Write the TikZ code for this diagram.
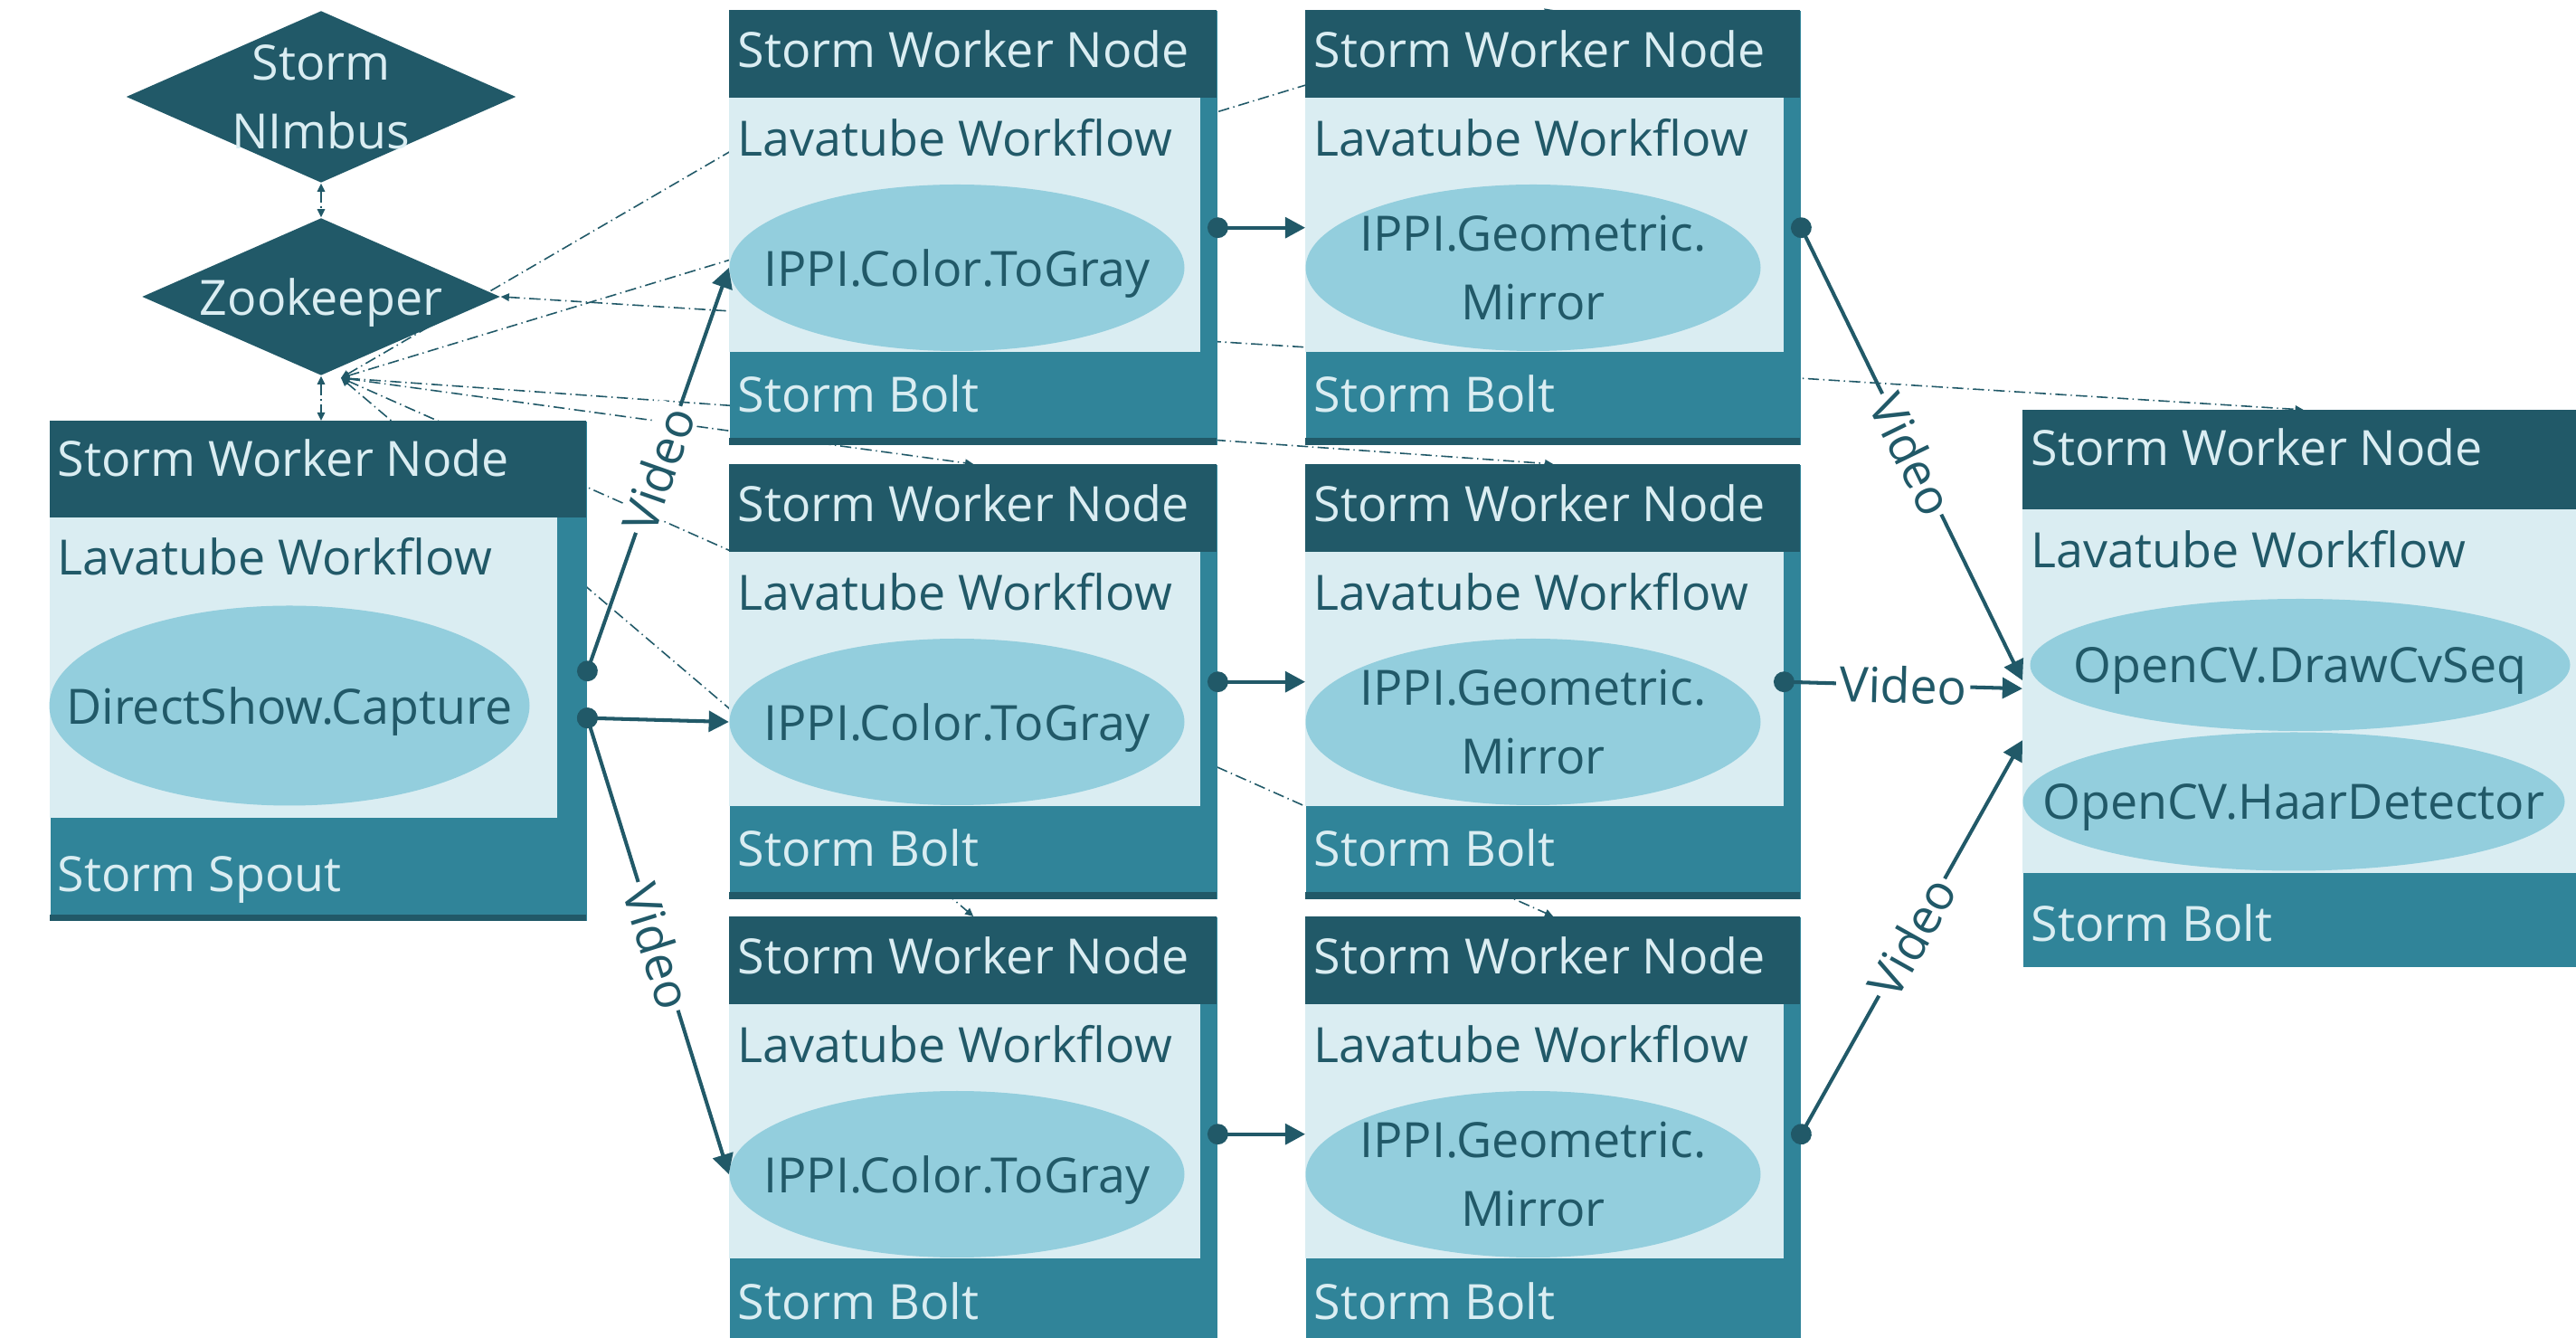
\documentclass[tikz,border=0pt]{standalone}
\usepackage{fontspec}
\setmainfont{Open Sans}
\usetikzlibrary{shapes.geometric, arrows.meta, positioning, calc, backgrounds}
\definecolor{tealDark}{RGB}{33, 89, 104}
\definecolor{tealMid}{RGB}{48, 132, 153}
\definecolor{tealPale}{RGB}{218, 237, 242}
\definecolor{ovalBlue}{RGB}{147, 206, 221}

\tikzset{
    box/.style={rectangle, fill=tealMid, inner sep=0pt, anchor=north west},
    diam/.style={diamond, fill=tealDark, inner sep=0pt},
    oval/.style={ellipse, fill=ovalBlue, inner sep=0pt},
    lighttext/.style={text=tealPale, inner sep=0pt},
    darktext/.style={text=tealDark, inner sep=0pt},
    optext/.style={text=tealDark, inner sep=0pt, align=center, text depth=0pt},
    flow/.style={draw=tealDark, line width=1.15pt, shorten <=-3.25pt,
        {Circle[length=6.5pt]}-{Triangle[length=6.3pt, width=6.5pt]}},
    sync/.style={draw=tealDark, line width=0.45pt,
        dash pattern=on 3.5pt off 1.3pt on 0.4pt off 1.3pt,
        {Triangle[length=2.6pt, width=2.4pt]}-{Triangle[length=2.6pt, width=2.4pt]}},
    vid/.style={fill=white, text=tealDark, inner sep=1pt, sloped}
}

\begin{document}
\begin{tikzpicture}[font=\fontsize{15.3}{21.6}\selectfont]
            \useasboundingbox (0,0) rectangle (28.48,-14.79);

            % Nimbus y Zookeeper
            \node[diam, minimum width=4.31cm, minimum height=1.90cm] (nimbus) at (3.55,-1.07) {};
            \node[lighttext, align=center] at (nimbus) {Storm\\NImbus};
            \node[diam, minimum width=3.96cm, minimum height=1.74cm] (zoo) at (3.55,-3.28) {};
            \node[lighttext, text depth=0pt] at (zoo) {Zookeeper};

            % Spout
            \node[box, minimum width=5.93cm, minimum height=5.52cm] (spout) at (0.55,-4.65) {};
            \fill[tealDark] (spout.north west) rectangle ++(5.93,-1.07);
            \fill[tealPale] ($(spout.north west)+(0,-1.07)$) rectangle ++(5.61,-3.32);
            \fill[tealDark] (spout.south west) rectangle ++(5.93,0.07);
            \node[lighttext, anchor=base west] at ($(spout.north west)+(0.08,-0.62)$) {Storm Worker Node};
            \node[darktext, anchor=base west] at ($(spout.north west)+(0.08,-1.71)$) {Lavatube Workflow};
            \node[oval, minimum width=5.31cm, minimum height=2.21cm] (spout-op) at ($(spout.north west)+(2.65,-3.15)$) {};
            \node[optext] at (spout-op) {DirectShow.Capture};
            \node[lighttext, anchor=base west] at ($(spout.north west)+(0.08,-5.21)$) {Storm Spout};

            % Bolts en rejilla
            \foreach \nm/\xl/\yt/\bw/\op in {gray1/8.06/0.11/5.39/{IPPI.Color.ToGray},
                gray2/8.06/5.13/5.39/{IPPI.Color.ToGray}, gray3/8.06/10.13/5.39/{IPPI.Color.ToGray},
                mirror1/14.43/0.11/5.47/{IPPI.Geometric.\\Mirror}, mirror2/14.43/5.13/5.47/{IPPI.Geometric.\\Mirror},
                mirror3/14.43/10.13/5.47/{IPPI.Geometric.\\Mirror}} {
                \node[box, minimum width=\bw cm, minimum height=4.80cm] (\nm) at (\xl,-\yt) {};
                \fill[tealDark] (\nm.north west) rectangle ++(\bw,-0.97);
                \fill[tealPale] ($(\nm.north west)+(0,-0.97)$) rectangle ++(\bw-0.18,-2.81);
                \fill[tealDark] (\nm.south west) rectangle ++(\bw,0.08);
                \node[lighttext, anchor=base west] at ($(\nm.north west)+(0.09,-0.635)$) {Storm Worker Node};
                \node[darktext, anchor=base west] at ($(\nm.north west)+(0.09,-1.62)$) {Lavatube Workflow};
                \node[oval, minimum width=5.03cm, minimum height=1.84cm] (\nm-op) at ($(\nm.north west)+(2.52,-2.85)$) {};
                \node[optext] at (\nm-op) {\op};
                \node[lighttext, anchor=base west] at ($(\nm.north west)+(0.09,-4.45)$) {Storm Bolt};
            }

            % Bolt final
            \node[box, minimum width=6.2cm, minimum height=6.15cm] (sink) at (22.36,-4.53) {};
            \fill[tealDark] (sink.north west) rectangle ++(6.2,-1.10);
            \fill[tealPale] ($(sink.north west)+(0,-1.10)$) rectangle ++(6.2,-4.02);
            \node[lighttext, anchor=base west] at ($(sink.north west)+(0.09,-0.62)$) {Storm Worker Node};
            \node[darktext, anchor=base west] at ($(sink.north west)+(0.09,-1.75)$) {Lavatube Workflow};
            \node[oval, minimum width=5.97cm, minimum height=1.46cm] (sink-draw) at ($(sink.north west)+(3.07,-2.82)$) {};
            \node[optext] at (sink-draw) {OpenCV.DrawCvSeq};
            \node[oval, minimum width=5.99cm, minimum height=1.53cm] (sink-haar) at ($(sink.north west)+(3.00,-4.33)$) {};
            \node[optext] at (sink-haar) {OpenCV.HaarDetector};
            \node[lighttext, anchor=base west] at ($(sink.north west)+(0.09,-5.88)$) {Storm Bolt};

            % Coordinacion (detras de las cajas)
            \begin{scope}[on background layer]
                \coordinate (hub) at ($(zoo.south)+(0.22,-0.02)$);
                \draw[sync] (nimbus.south) -- (zoo.north);
                \draw[sync] (zoo.south) -- (zoo.south |- spout.north);
                \foreach \t in {gray1, gray2, gray3, mirror1, mirror2, mirror3}
                    \draw[sync] (hub) -- (\t.north);
                \draw[sync] (zoo.east) -- (sink.north);
            \end{scope}

            % Flujo de video
            \draw[flow] (spout.east) -- node[vid] {Video} (gray1-op.west);
            \draw[flow] ($(spout.east)+(0,-0.52)$) -- (gray2-op.west);
            \draw[flow] ($(spout.east)+(0,-0.52)$) -- node[vid] {Video} (gray3-op.west);
            \foreach \i in {1,2,3}
                \draw[flow] (gray\i.east) -- (mirror\i.west);
            \draw[flow] (mirror1.east) -- node[vid] {Video} ($(sink.west)+(0,0.09)$);
            \draw[flow] ($(mirror2.east)+(-0.19,0)$) -- node[vid] {Video} (sink.west);
            \draw[flow] (mirror3.east) -- node[vid] {Video} ($(sink.west)+(0,-0.57)$);
        \end{tikzpicture}
\end{document}
